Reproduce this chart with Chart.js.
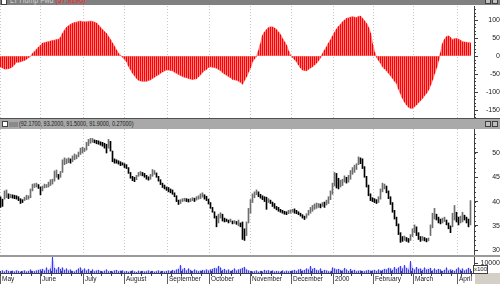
<!DOCTYPE html>
<html lang="en">
<head>
  <meta charset="UTF-8" />
  <title>LT Hump Fwd</title>
  <script src="https://cdn.jsdelivr.net/npm/chart.js"></script>
  <style>
    body { margin: 0; width: 500px; height: 284px; position: relative; overflow: hidden; background: #fff;
           font-family: "Liberation Sans", Arial, sans-serif; }
    canvas { position: absolute; left: 0; }
    .strip { position: absolute; left: 0; width: 500px; overflow: hidden; }
    #hdr1 { top: 0; height: 5px; background: #808080; }
    #hdr2 { top: 118px; height: 10px; background: #a9a9a9; border-top: 1px solid #505050; }
    #sep { top: 255px; height: 2px; background: #9a9a9a; }
    .box { position: absolute; width: 4px; height: 4px; background: #fff; border: 1px solid #404040; }
    .txt { position: absolute; white-space: nowrap; transform: scaleX(0.78); transform-origin: left top; }
    #corner { position: absolute; left: 475px; top: 273px; width: 25px; height: 11px; background: #d4d0c8; }
    #unit { position: absolute; left: 473px; top: 265px; width: 13px; height: 7px; border: 1px solid #404040;
            background: #fff; font-size: 6px; line-height: 7px; text-align: center; color: #202020; }
  </style>
</head>
<body>
  <div class="strip" id="hdr1">
    <div class="box" style="left:1px; top:-1px;"></div>
    <span class="txt" style="left:10px; top:-5px; font-size:9px; color:#d0d0d0;">LT Hump Fwd <span style="color:#ff2020;">(57.9290)</span></span>
    <div class="box" style="left:485px; top:-2px; background:#c0c0c0;"></div>
    <div class="box" style="left:492px; top:-2px; background:#c0c0c0;"></div>
  </div>
  <canvas id="oscChart" width="500" height="113" style="top:5px;"></canvas>
  <div class="strip" id="hdr2">
    <div class="box" style="left:2px; top:2px;"></div>
    <div style="position:absolute; left:9px; top:3px; width:9px; height:5px; background:#8a8a8a;"></div>
    <span class="txt" style="left:19px; top:0px; font-size:7px; line-height:10px; color:#202020;">(92.1700, 93.2000, 91.5000, 91.9000, 0.27000)</span>
    <div class="box" style="left:485px; top:2px; background:#c0c0c0;"></div>
    <div class="box" style="left:492px; top:2px; background:#c0c0c0;"></div>
  </div>
  <canvas id="priceChart" width="500" height="126" style="top:129px;"></canvas>
  <div class="strip" id="sep"></div>
  <canvas id="volChart" width="500" height="27" style="top:257px;"></canvas>
  <div id="corner"></div>
  <div id="unit">x100</div>

  <script>
    // month boundaries (trading-day index) and their labels
    const monthTicks = [-0.25, 19.75, 41.25, 61.75, 83.25, 104.25, 124.75, 145.25, 166.25, 186.25, 206.25, 228.25];
    const monthLabels = ["May", "June", "July", "August", "September", "October", "November", "December", "2000", "February", "March", "April"];
    const oscTicks = [-150, -100, -50, 0, 50, 100];
    const priceTicks = [30, 35, 40, 45, 50];
    const volTicks = [10000];

    // oscillator, one value per day
    const osc = [
      -31, -33, -36, -36, -35, -33, -30, -24, -17, -17,
      -16, -14, -12, -9, -5, -1, 8, 13, 19, 25,
      30, 36, 37, 39, 40, 42, 43, 44, 46, 47,
      52, 63, 72, 80, 84, 88, 91, 93, 94, 96,
      97, 95, 95, 95, 96, 97, 96, 94, 92, 86,
      80, 74, 68, 63, 54, 46, 36, 27, 17, 8,
      2, -3, -9, -16, -28, -38, -48, -55, -62, -67,
      -69, -70, -70, -70, -68, -66, -62, -59, -55, -52,
      -48, -44, -41, -39, -39, -40, -41, -45, -48, -51,
      -54, -57, -59, -60, -62, -64, -65, -64, -63, -58,
      -52, -46, -40, -37, -32, -30, -31, -32, -34, -37,
      -41, -46, -50, -53, -57, -60, -65, -66, -67, -70,
      -73, -78, -68, -58, -45, -33, -16, -8, -2, 16,
      35, 58, 67, 74, 79, 81, 81, 78, 74, 67,
      60, 49, 40, 31, 15, 3, -4, -10, -16, -25,
      -33, -39, -40, -41, -37, -33, -30, -25, -20, -13,
      -5, 7, 17, 26, 36, 45, 56, 66, 75, 83,
      88, 95, 100, 105, 106, 108, 109, 108, 107, 110,
      111, 105, 98, 91, 80, 65, 35, 12, -3, -12,
      -20, -30, -36, -41, -48, -55, -62, -70, -76, -92,
      -105, -118, -128, -136, -142, -145, -145, -141, -136, -130,
      -124, -118, -110, -104, -95, -82, -67, -50, -34, -14,
      10, 35, 47, 54, 56, 52, 46, 48, 49, 47,
      44, 40, 39, 38, 37, 37
    ];

    // daily price range
    const lows = [
      38.8, 39.0, 40.5, 40.8, 40.6, 40.8, 40.7, 40.6, 40.5, 40.2,
      39.6, 39.8, 40.2, 40.4, 40.5, 40.8, 42.2, 42.9, 43.0, 42.7,
      41.4, 42.2, 42.8, 42.9, 43.0, 43.3, 43.6, 44.2, 45.0, 44.6,
      45.0, 46.0, 47.6, 47.8, 48.0, 47.9, 48.2, 48.6, 48.8, 49.2,
      49.7, 50.0, 50.3, 50.6, 51.5, 52.0, 52.2, 52.1, 51.9, 51.8,
      51.6, 51.4, 51.0, 50.0, 51.0, 50.4, 48.2, 47.9, 47.9, 47.7,
      47.4, 47.5, 47.0, 46.8, 45.8, 44.8, 44.3, 44.1, 44.5, 45.2,
      45.4, 45.3, 45.0, 44.6, 44.4, 44.6, 45.2, 45.6, 45.0, 44.2,
      43.5, 42.9, 42.6, 42.3, 42.0, 41.8, 41.5, 41.0, 40.0, 39.4,
      39.6, 40.0, 40.1, 40.0, 39.9, 40.0, 40.2, 40.0, 40.3, 40.5,
      40.6, 40.9, 40.5, 40.2, 39.5, 38.6, 37.8, 36.6, 34.8, 35.6,
      36.6, 36.0, 35.8, 35.9, 35.6, 35.8, 35.4, 35.5, 35.3, 35.0,
      34.8, 32.2, 32.0, 33.0, 35.6, 37.6, 39.8, 40.8, 41.4, 41.0,
      40.7, 40.4, 40.0, 38.4, 39.8, 39.6, 39.0, 38.6, 38.3, 38.0,
      37.8, 37.6, 37.4, 37.3, 37.5, 37.6, 37.8, 37.6, 37.5, 37.3,
      37.0, 36.6, 36.3, 36.6, 37.2, 37.6, 38.0, 38.4, 38.6, 38.8,
      38.7, 39.0, 38.8, 39.3, 39.6, 40.4, 41.5, 43.2, 42.8, 42.6,
      43.0, 43.3, 44.0, 43.8, 44.0, 44.6, 45.6, 46.0, 46.6, 47.6,
      47.8, 46.8, 45.0, 43.0, 41.2, 40.2, 40.0, 39.8, 39.6, 39.8,
      40.5, 42.0, 42.6, 41.8, 40.6, 39.4, 37.8, 36.4, 35.0, 33.2,
      31.6, 31.8, 32.0, 31.8, 31.6, 32.0, 32.8, 33.6, 33.0, 32.2,
      31.8, 32.0, 31.9, 31.7, 31.9, 33.0, 34.6, 36.4, 36.2, 35.6,
      35.4, 35.6, 35.9, 35.2, 34.4, 33.6, 34.8, 36.2, 35.8, 35.2,
      35.6, 35.8, 36.2, 35.6, 34.8, 35.2
    ];
    const highs = [
      41.0, 40.5, 42.2, 42.4, 41.6, 41.5, 41.4, 41.3, 41.2, 41.0,
      40.6, 40.4, 40.9, 41.3, 41.2, 42.6, 43.6, 43.7, 43.8, 43.5,
      43.0, 43.2, 43.6, 43.5, 44.0, 44.5, 44.6, 46.3, 46.5, 45.6,
      46.2, 48.6, 49.0, 48.8, 49.0, 48.8, 49.4, 49.8, 49.6, 50.2,
      51.0, 51.2, 51.0, 52.2, 52.8, 53.0, 53.0, 52.7, 52.6, 52.5,
      52.3, 52.2, 52.0, 51.8, 52.8, 52.4, 50.4, 48.8, 48.6, 48.4,
      48.2, 48.0, 47.8, 47.6, 47.0, 46.0, 45.2, 45.0, 45.4, 46.0,
      46.2, 46.0, 45.8, 45.4, 45.1, 45.6, 46.6, 46.4, 45.9, 45.2,
      44.5, 43.8, 43.4, 43.0, 42.9, 42.6, 42.4, 41.8, 41.2, 40.3,
      40.4, 40.6, 40.7, 40.6, 40.5, 40.6, 40.8, 40.7, 41.0, 41.2,
      41.6, 41.8, 41.4, 41.1, 40.5, 39.8, 38.8, 37.9, 37.0, 37.4,
      37.7, 37.4, 36.6, 36.4, 36.2, 36.4, 36.0, 36.1, 35.9, 36.2,
      35.6, 35.8, 34.4, 35.8, 38.6, 40.4, 41.6, 42.0, 42.4, 42.0,
      41.5, 41.2, 41.0, 40.9, 40.6, 40.3, 39.9, 39.6, 39.0, 38.8,
      38.4, 38.2, 38.0, 37.9, 38.2, 38.3, 38.4, 38.5, 38.2, 37.9,
      37.6, 37.3, 37.0, 37.5, 38.2, 38.8, 39.2, 39.5, 39.7, 39.6,
      39.5, 39.8, 39.9, 40.3, 41.0, 42.2, 43.8, 46.0, 45.8, 44.8,
      44.4, 44.6, 45.3, 45.0, 45.4, 46.4, 47.0, 47.5, 47.8, 49.2,
      49.0, 48.8, 47.2, 45.2, 43.4, 41.6, 40.8, 40.6, 40.4, 41.0,
      42.6, 43.8, 43.6, 43.2, 42.2, 41.0, 39.8, 38.2, 36.8, 35.4,
      33.6, 32.8, 32.9, 32.6, 32.4, 33.2, 34.4, 35.2, 34.8, 33.6,
      32.8, 32.8, 32.6, 32.4, 32.5, 35.2, 37.6, 38.6, 37.4, 36.8,
      36.4, 36.6, 36.8, 36.2, 35.6, 35.0, 37.6, 39.2, 37.8, 36.8,
      37.0, 37.8, 37.2, 36.8, 36.4, 40.2
    ];

    // daily volume, one row per month
    const volume = [
      2000, 2500, 1500, 3000, 2000, 1800, 2200, 1500, 2500, 2000, 1200, 1800, 2600, 1500, 2000, 3500, 2000, 1800, 2500, 3000,
      3500, 4000, 2500, 5500, 3000, 4500, 16000, 5000, 3500, 6000, 4000, 5500, 3000, 4500, 2500, 3500, 2000, 1500, 3000, 4500, 5500,
      3000, 4500, 2500, 4000, 2000, 3500, 1800, 2500, 3000, 2000, 1500, 2200, 3500, 1800, 2000, 1500, 2500, 3000, 1800, 2200, 2600,
      1500, 2000, 1200, 1800, 2500, 1500, 1000, 2200, 1600, 2000, 1400, 1800, 2600, 1500, 2000, 1200, 1800, 2400, 1600, 2000, 1500,
      2000, 2500, 1800, 3000, 2200, 3500, 4000, 8000, 3500, 5000, 2500, 4500, 3000, 2000, 3500, 2500, 1800, 2200, 3000, 2500, 3500,
      2500, 3500, 4000, 5000, 4500, 7000, 5500, 3000, 4000, 2500, 3500, 2000, 3000, 4500, 2500, 3500, 4000, 5000, 6000, 3500, 2500,
      2000, 1500, 1800, 2500, 1200, 2000, 1600, 3000, 2200, 2800, 1800, 2500, 1500, 2000, 1800, 1200, 2500, 1600, 2200, 1800, 2000,
      2500, 3000, 2000, 3500, 4000, 2500, 3000, 4500, 3500, 7000, 4000, 5000, 3000, 2500, 4500, 2000, 3000, 2500, 1800, 1500,
      5500, 4500, 3500, 4000, 3000, 2500, 5000, 3500, 2000, 4000, 2500, 3000, 1800, 2200, 2500, 2000, 1800, 2500, 3000, 2200,
      2500, 3000, 2000, 3500, 2500, 3000, 4000, 3500, 5000, 4500, 3000, 6000, 4000, 5500, 7000, 4500, 8000, 5000, 3500, 12000,
      5000, 3500, 6000, 4000, 4500, 3000, 5500, 3500, 4000, 5000, 2500, 4500, 3000, 4000, 3500, 2000, 3000, 5500, 2500, 3500, 3000, 2000, 4000,
      5500, 3000, 4500, 2500, 3500, 5000, 4000
    ];

    Chart.defaults.font.family = "'Liberation Sans', Arial, sans-serif";
    Chart.defaults.font.size = 7;
    Chart.defaults.color = "#1a1a1a";
    Chart.defaults.animation = false;
    Chart.defaults.plugins.legend.display = false;
    Chart.defaults.plugins.tooltip.enabled = false;

    // short minor tick marks on the right axis and along the time axis
    const minorTicks = {
      id: "minor",
      afterDraw(chart, args, opts) {
        const ctx = chart.ctx, area = chart.chartArea;
        ctx.save();
        ctx.strokeStyle = "#404040";
        ctx.lineWidth = 1;
        if (opts.yStep) {
          const ys = chart.scales.y;
          for (let v = Math.ceil(ys.min / opts.yStep) * opts.yStep; v <= ys.max; v += opts.yStep) {
            const py = Math.round(ys.getPixelForValue(v)) + 0.5;
            ctx.beginPath(); ctx.moveTo(area.right, py); ctx.lineTo(area.right + 2, py); ctx.stroke();
          }
        }
        if (opts.xStep) {
          const xs = chart.scales.x;
          for (let v = 0; v < osc.length; v += opts.xStep) {
            const px = Math.round(xs.getPixelForValue(v)) + 0.5;
            ctx.beginPath(); ctx.moveTo(px, area.bottom - 2); ctx.lineTo(px, area.bottom + 3); ctx.stroke();
          }
        }
        ctx.restore();
      }
    };

    function xScale() {
      return {
        type: "linear", min: -0.25, max: 236.75, offset: false,
        afterBuildTicks: s => { s.ticks = monthTicks.map(v => ({ value: v })); },
        grid: { color: "#c8c8c8", drawTicks: false, offset: false },
        border: { display: false, dash: [1, 2] },
        ticks: { display: false }
      };
    }

    function yScale(min, max, majors, pad) {
      return {
        position: "right", min: min, max: max,
        afterBuildTicks: s => { s.ticks = majors.map(v => ({ value: v })); },
        afterFit: s => { s.width = 26; s.paddingTop = 0; s.paddingBottom = 0; },
        grid: { drawOnChartArea: false, tickLength: 4, color: "#404040" },
        border: { color: "#404040" },
        ticks: { crossAlign: "far", padding: pad, autoSkip: false, callback: v => String(v) }
      };
    }

    const oscPoints = osc.map((v, i) => ({ x: i, y: v }));
    new Chart(document.getElementById("oscChart"), {
      type: "bar",
      data: {
        datasets: [
          { type: "bar", data: oscPoints, backgroundColor: "#ff0000", barThickness: 1, inflateAmount: 0, order: 0 },
          { type: "line", data: oscPoints, backgroundColor: "#ff8080", borderColor: "#ff8080",
            borderWidth: 1, pointRadius: 0, tension: 0, fill: "origin", order: 1 }
        ]
      },
      options: {
        responsive: false,
        layout: { padding: { top: 1 } },
        scales: { x: xScale(), y: yScale(-172, 139, oscTicks, 4) },
        plugins: { minor: { yStep: 10 } }
      },
      plugins: [minorTicks]
    });

    new Chart(document.getElementById("priceChart"), {
      type: "bar",
      data: {
        datasets: [{
          data: lows.map((l, i) => ({ x: i, y: [l, highs[i]] })),
          backgroundColor: c => {
            const i = c.dataIndex;
            if (i === 0) return "#000000";
            return lows[i] + highs[i] < lows[i - 1] + highs[i - 1] ? "#000000" : "#6e6e6e";
          },
          barThickness: 1
        }]
      },
      options: {
        responsive: false,
        scales: { x: xScale(), y: yScale(29, 54.94, priceTicks, 12) },
        plugins: { minor: { yStep: 1 } }
      },
      plugins: [minorTicks]
    });

    const volPoints = volume.map((v, i) => ({ x: i, y: v }));
    const volX = xScale();
    volX.grid = { drawOnChartArea: false, drawTicks: true, tickLength: 11, color: "#606060", offset: false };
    volX.border = { display: true, color: "#404040" };
    volX.ticks = { display: true, align: "start", labelOffset: 2, padding: -9, maxRotation: 0, autoSkip: false,
                   font: { size: 6.5 }, callback: (v, i) => monthLabels[i] };
    volX.afterFit = s => { s.height = 11; s.paddingLeft = 0; s.paddingRight = 0; };

    new Chart(document.getElementById("volChart"), {
      type: "bar",
      data: {
        datasets: [
          { type: "bar", data: volPoints, backgroundColor: "#3a3aff", barThickness: 1, inflateAmount: 0, order: 0 },
          { type: "line", data: volPoints, backgroundColor: "#cacaf8", borderColor: "#cacaf8",
            borderWidth: 1, pointRadius: 0, tension: 0, fill: "origin", order: 1 }
        ]
      },
      options: {
        responsive: false,
        scales: { x: volX, y: yScale(0, 16000, volTicks, 1) },
        plugins: { minor: { xStep: 5 } }
      },
      plugins: [minorTicks]
    });
  </script>
</body>
</html>
